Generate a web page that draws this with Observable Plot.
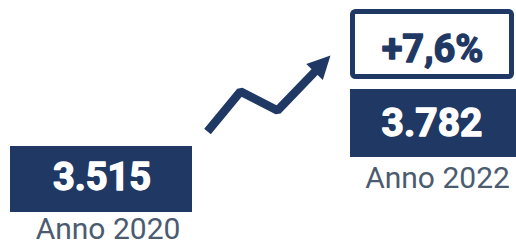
<!DOCTYPE html>
<html>
<head>
<meta charset="utf-8">
<script src="https://cdn.jsdelivr.net/npm/d3@7"></script>
<script src="https://cdn.jsdelivr.net/npm/@observablehq/plot@0.6"></script>
<style>
  html, body { margin: 0; padding: 0; background: #fff; }
</style>
</head>
<body>
<div id="chart"></div>
<script>
// ---- data ----
const labels = ["Anno 2020", "Anno 2022"];
const values = [3515, 3782];

// ---- layout (pixels) ----
const W = 516, H = 246;
const navy = "#1f3864";
const grey = "#4b5b70";
const boxes = [
  {x1: 10, x2: 192, y1: 146, y2: 212},
  {x1: 350, x2: 516, y1: 89, y2: 157}
];
const valuePos = [{x: 101.5, y: 163, size: 38}, {x: 431.5, y: 108, size: 39}];
const labelPos = [{x: 107.5, y: 217, size: 30}, {x: 437, y: 166.5, size: 30}];
const changeBox = {x1: 352.5, x2: 511.5, y1: 11.5, y2: 76.5};
const changePos = {x: 432, y: 35, size: 38};
// decorative zig-zag trend arrow
const arrowPath = [[207, 131], [240, 91], [277, 110], [330, 55]];
const headLen = 23, headHalf = 11.5;

// ---- derived ----
const it = d3.formatLocale({decimal: ",", thousands: ".", grouping: [3], currency: ["€", ""]});
const fmtNum = it.format(",d");
const fmtPct = it.format("+.1%");
const change = fmtPct(values[1] / values[0] - 1);

const cards = labels.map((l, i) => ({
  label: l, value: fmtNum(values[i]),
  ...boxes[i],
  vx: valuePos[i].x, vy: valuePos[i].y, vs: valuePos[i].size,
  lx: labelPos[i].x, ly: labelPos[i].y, ls: labelPos[i].size
}));

// arrow head geometry from last segment
const tip = arrowPath[arrowPath.length - 1];
const prev = arrowPath[arrowPath.length - 2];
const dx = tip[0] - prev[0], dy = tip[1] - prev[1];
const len = Math.hypot(dx, dy);
const ux = dx / len, uy = dy / len;
const nx = -uy, ny = ux;
const base = [tip[0] - headLen * ux, tip[1] - headLen * uy];
const shaft = arrowPath.slice(0, -1).concat([[base[0] + 2 * ux, base[1] + 2 * uy]]);
const head = [
  tip,
  [base[0] + headHalf * nx, base[1] + headHalf * ny],
  [base[0] - headHalf * nx, base[1] - headHalf * ny],
  tip
];

const marks = [
  Plot.rect(cards, {x1: "x1", x2: "x2", y1: "y1", y2: "y2", fill: navy}),
  Plot.rect([changeBox], {x1: "x1", x2: "x2", y1: "y1", y2: "y2", fill: "none", stroke: navy, strokeWidth: 5, rx: 3})
];
cards.forEach(c => {
  marks.push(Plot.text([c], {x: "vx", y: "vy", text: "value", fill: "white", stroke: "white", strokeWidth: 1.3, fontSize: c.vs, fontWeight: 700, lineAnchor: "top", textAnchor: "middle"}));
  marks.push(Plot.text([c], {x: "lx", y: "ly", text: "label", fill: grey, fontSize: c.ls, fontWeight: 400, lineAnchor: "top", textAnchor: "middle"}));
});
marks.push(Plot.text([changePos], {x: "x", y: "y", text: () => change, fill: navy, stroke: navy, strokeWidth: 1.3, fontSize: changePos.size, fontWeight: 700, lineAnchor: "top", textAnchor: "middle"}));
marks.push(Plot.line(shaft, {x: d => d[0], y: d => d[1], stroke: navy, strokeWidth: 8.5, strokeLinecap: "butt", strokeLinejoin: "miter", curve: "linear"}));
marks.push(Plot.line(head, {x: d => d[0], y: d => d[1], fill: navy, stroke: "none", curve: "linear"}));

const chart = Plot.plot({
  width: W, height: H, margin: 0,
  style: {background: "white", fontFamily: "Roboto, sans-serif"},
  x: {domain: [0, W], range: [0, W], axis: null},
  y: {domain: [0, H], range: [0, H], axis: null},
  marks
});
document.getElementById("chart").append(chart);
</script>
</body>
</html>
